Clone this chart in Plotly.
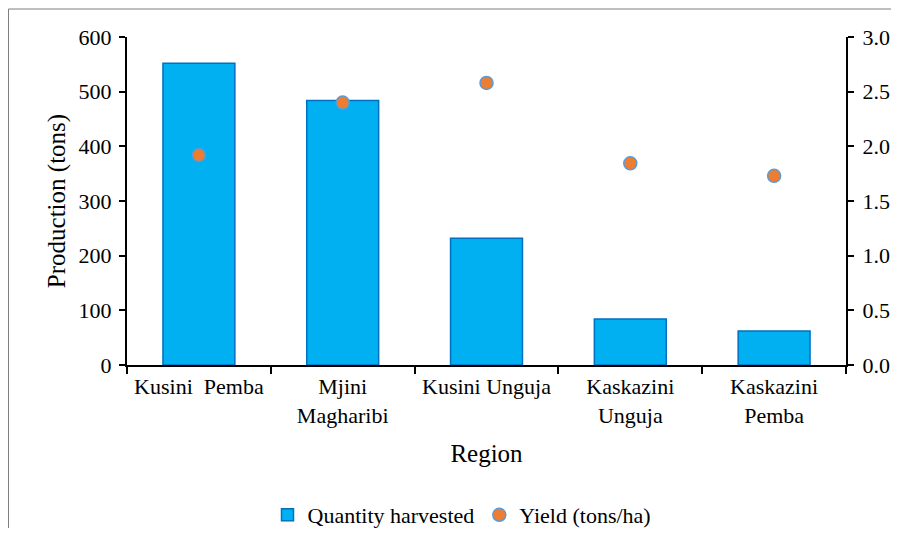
import plotly.graph_objects as go

regions = ["Kusini  Pemba", "Mjini<br>Magharibi", "Kusini Unguja", "Kaskazini<br>Unguja", "Kaskazini<br>Pemba"]
quantity = [552, 484, 232, 84, 62]
yield_tha = [1.92, 2.40, 2.58, 1.845, 1.73]

W, H = 883, 520
ml, mt = 119, 29
pw, ph = 719, 328
mr, mb = W - ml - pw, H - mt - ph

font = "Liberation Serif, Times New Roman, serif"

fig = go.Figure()
fig.add_trace(go.Bar(
    x=regions, y=quantity, name="Quantity harvested",
    marker=dict(color="#00B0F0", line=dict(color="#0070C0", width=1.5)),
    width=0.5, yaxis="y",
))
fig.add_trace(go.Scatter(
    x=regions, y=yield_tha, name="Yield (tons/ha)", mode="markers",
    marker=dict(color="#ED7D31", size=13, line=dict(color="#5B9BD5", width=1.5)),
    yaxis="y2",
))

def px2paper_x(x):
    return (x - ml) / pw

def px2paper_y(y):
    return (mt + ph - y) / ph

fig.update_layout(
    width=W, height=H,
    margin=dict(l=ml, r=mr, t=mt, b=mb, autoexpand=False),
    paper_bgcolor="white", plot_bgcolor="white",
    font=dict(family=font, size=22, color="black"),
    showlegend=True,
    legend=dict(orientation="h", x=px2paper_x(454), xanchor="center",
                y=px2paper_y(507), yanchor="middle", font=dict(size=22),
                tracegroupgap=0),
    xaxis=dict(
        automargin=False,
        showline=True, linecolor="black", linewidth=2,
        ticks="outside", tickson="boundaries", ticklen=7, tickwidth=2, tickcolor="black",
        tickfont=dict(size=22), showgrid=False, ticklabelstandoff=1,
        title=dict(text="Region", font=dict(size=25), standoff=17),
        range=[-0.5, 4.5],
    ),
    yaxis=dict(
        automargin=False,
        range=[0, 600], dtick=100, showline=True, linecolor="black", linewidth=2,
        ticks="outside", ticklen=6, tickwidth=2, tickcolor="black",
        showgrid=False, zeroline=False, tickfont=dict(size=22), ticklabelstandoff=3,
        title=dict(text="Production (tons)", font=dict(size=25), standoff=6),
    ),
    yaxis2=dict(
        automargin=False,
        range=[0, 3.0], dtick=0.5, tickformat=".1f", overlaying="y", side="right",
        showline=True, linecolor="black", linewidth=2,
        ticks="outside", ticklen=6, tickwidth=2, tickcolor="black",
        showgrid=False, zeroline=False, tickfont=dict(size=22), ticklabelstandoff=4,
    ),
    shapes=[
        dict(type="line", xref="paper", yref="paper",
             x0=px2paper_x(0.5), x1=px2paper_x(0.5), y0=px2paper_y(1), y1=px2paper_y(560),
             line=dict(color="#7F7F7F", width=1)),
        dict(type="line", xref="paper", yref="paper",
             x0=px2paper_x(0.5), x1=px2paper_x(910), y0=px2paper_y(1), y1=px2paper_y(1),
             line=dict(color="#7F7F7F", width=1)),
    ],
)

fig.write_html("out.html")
